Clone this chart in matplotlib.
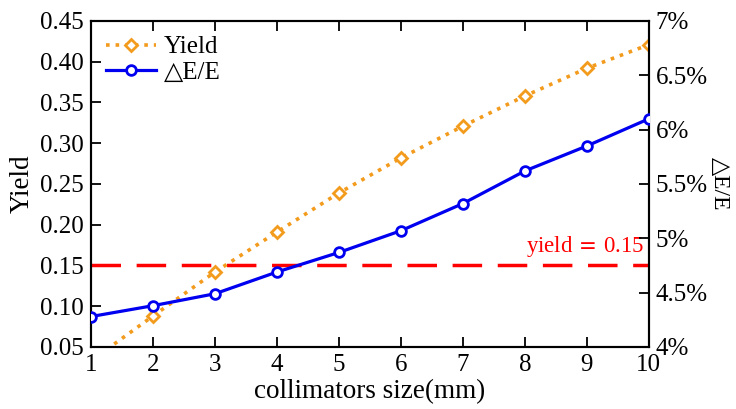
import matplotlib.pyplot as plt
from matplotlib.lines import Line2D

# =========================
# DATOS
# =========================
size_mm = [1, 2, 3, 4, 5, 6, 7, 8, 9, 10]
yield_vals = [0.033, 0.088, 0.142, 0.191, 0.239, 0.282, 0.321, 0.358, 0.392, 0.421]
de_e_vals = [4.28, 4.38, 4.49, 4.69, 4.87, 5.07, 5.32, 5.62, 5.85, 6.10]
yield_ticks = [0.05, 0.10, 0.15, 0.20, 0.25, 0.30, 0.35, 0.40, 0.45]
de_ticks = [4.0, 4.5, 5.0, 5.5, 6.0, 6.5, 7.0]
de_labels = ["4%", "4.5%", "5%", "5.5%", "6%", "6.5%", "7%"]
yield_limit = 0.15

plt.rcParams["font.family"] = ["Liberation Serif", "DejaVu Serif"]
plt.rcParams["mathtext.fontset"] = "stix"

orange = "#F29B1D"
blue = "#0000F0"
red = "#FF0000"
fs_tick = 18
fs_lab = 19.5

fig = plt.figure(figsize=(7.36, 4.09), dpi=100)
ax = fig.add_axes([0.1236, 0.1516, 0.758, 0.7971])
ax2 = ax.twinx()

# Yield (eje izquierdo)
ax.plot(size_mm, yield_vals, color=orange, linestyle=":", linewidth=2.6,
        marker="D", markersize=6, markerfacecolor="white",
        markeredgecolor=orange, markeredgewidth=2, clip_on=True, zorder=3)
ax.axhline(yield_limit, color=red, linewidth=2.5, dashes=(8.5, 4.5), zorder=2)
ax.text(9.93, yield_limit + 0.008, "yield$\\;=\\;$0.15", color=red,
        fontsize=16.5, ha="right", va="bottom")

# dE/E (eje derecho)
ax2.plot(size_mm, de_e_vals, color=blue, linestyle="-", linewidth=2.3,
         marker="o", markersize=7, markerfacecolor="white",
         markeredgecolor=blue, markeredgewidth=2, zorder=3)

ax.set_xlim(1, 10)
ax.set_ylim(0.05, 0.45)
ax2.set_ylim(4.0, 7.0)
ax.set_xticks(size_mm)
ax.set_yticks(yield_ticks)
ax.set_yticklabels([f"{v:.2f}" for v in yield_ticks])
ax2.set_yticks(de_ticks)
ax2.set_yticklabels(de_labels)

ax.tick_params(axis="both", direction="in", length=7, width=1.3,
               labelsize=fs_tick, top=True, pad=5)
ax2.tick_params(axis="y", direction="in", length=7, width=1.3,
                labelsize=fs_tick, pad=5)

for a in (ax, ax2):
    for spine in a.spines.values():
        spine.set_color("black")
        spine.set_linewidth(1.5)

ax.set_xlabel("collimators size(mm)", fontsize=fs_lab, labelpad=2)
ax.set_ylabel("Yield", fontsize=fs_lab, labelpad=4)
ax2.set_ylabel("△E/E", fontsize=17, rotation=270, labelpad=16)

handles = [
    Line2D([], [], color=orange, linestyle=":", linewidth=2.6, marker="D",
           markersize=6, markerfacecolor="white", markeredgecolor=orange,
           markeredgewidth=2),
    Line2D([], [], color=blue, linestyle="-", linewidth=2.3, marker="o",
           markersize=7, markerfacecolor="white", markeredgecolor=blue,
           markeredgewidth=2),
]
ax.legend(handles, ["Yield", "△E/E"], loc="upper left", frameon=False,
          fontsize=18, handlelength=2.0, handletextpad=0.3,
          labelspacing=0.1, borderaxespad=0.3, borderpad=0.3)

fig.savefig("out.png", dpi=100)
